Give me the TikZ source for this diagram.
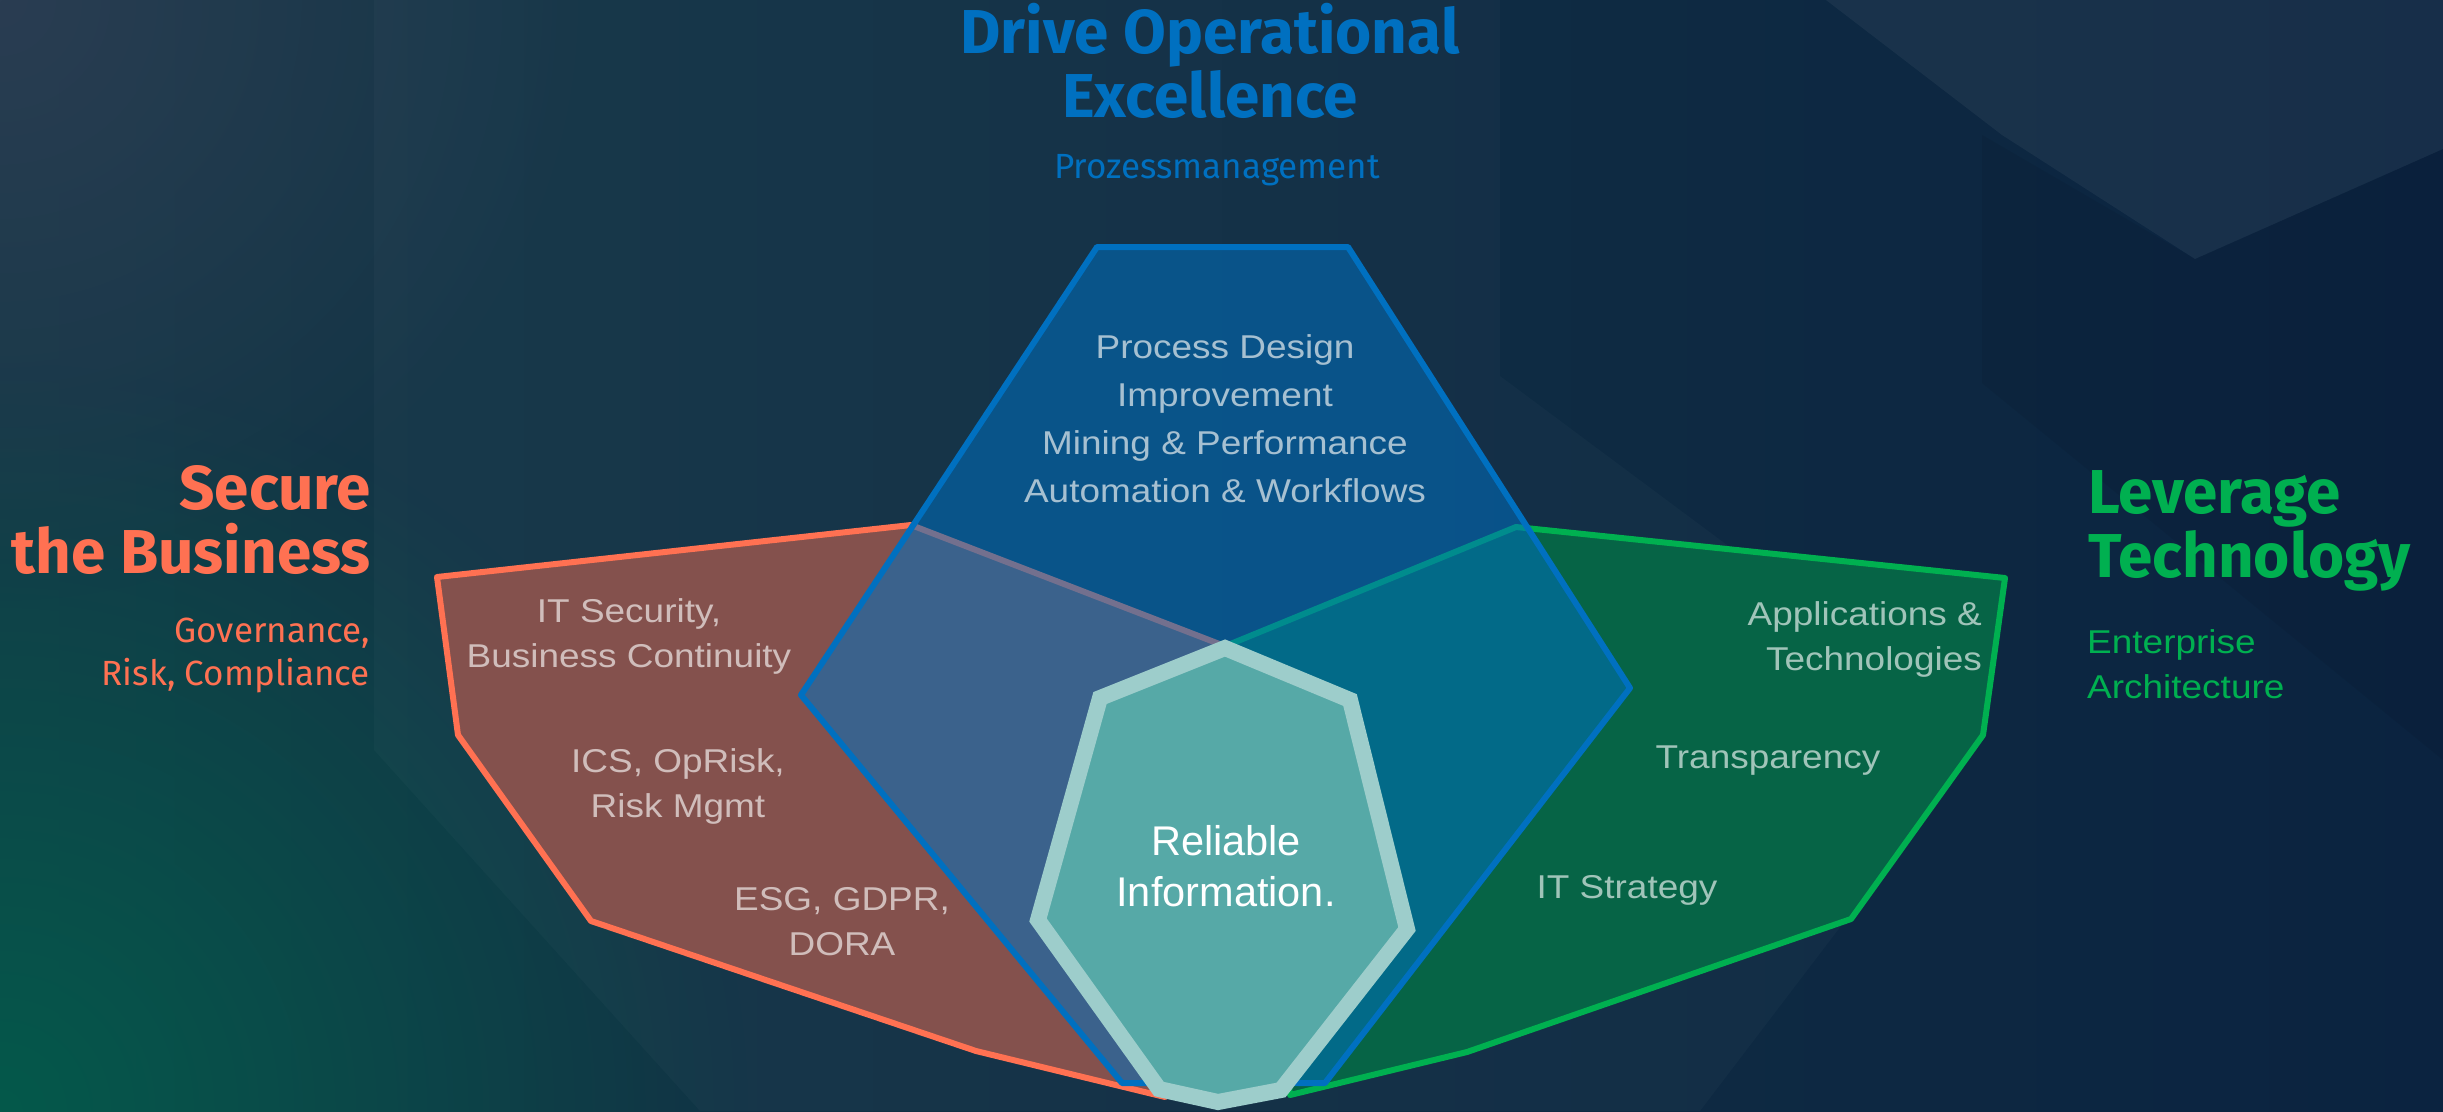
\documentclass[tikz,border=0pt]{standalone}
\usepackage{fontspec}
\usepackage{tikz}
\usetikzlibrary{fadings}
\newfontfamily\headfont{Fira Sans}
\newfontfamily\bodyfont[FakeStretch=1.12]{Liberation Sans}
\newfontfamily\infofont{Liberation Sans}
\definecolor{bgleft}{HTML}{143847}
\definecolor{bgright}{HTML}{0B2340}
\definecolor{bgteal}{HTML}{04594B}
\definecolor{bgcorner}{HTML}{2A3D52}
\definecolor{secred}{HTML}{FF7152}
\definecolor{levgreen}{HTML}{00B050}
\definecolor{opblue}{HTML}{0070C0}
\definecolor{redfill}{HTML}{84514D}
\definecolor{greenfill}{HTML}{066446}
\definecolor{bluefill}{HTML}{074F80}
\definecolor{hexfill}{HTML}{56A9A7}
\definecolor{hexline}{HTML}{9DCDCB}
\tikzfading[name=glowfade, inner color=transparent!0, outer color=transparent!100]
\tikzset{
  field/.style={line width=6pt, line join=round},
  titletxt/.style={font=\headfont\bfseries\fontsize{62}{64}\selectfont, inner sep=0pt, align=#1},
  subtxt/.style={font=\headfont\fontsize{35}{43}\selectfont, inner sep=0pt, align=#1},
  bodytxt/.style={font=\bodyfont\fontsize{33}{45}\selectfont, inner sep=0pt, align=center},
}

\begin{document}
\begin{tikzpicture}[x=1pt, y=-1pt]
    \useasboundingbox (0,0) rectangle (2443,1111);
    \clip (0,0) rectangle (2443,1111);
    \shade[left color=bgleft, right color=bgright] (0,0) rectangle (2443,1111);
    \fill[bgteal, path fading=glowfade] (0,1111) circle (750);
    \fill[bgcorner, path fading=glowfade] (0,0) circle (600);
    \fill[white, opacity=0.025] (374,0) -- (1500,0) -- (1500,376) -- (1985,737) -- (1700,1111) -- (700,1111) -- (374,750) -- cycle;
    \fill[white, opacity=0.05] (1826,0) -- (2002,135) -- (2195,259) -- (2443,149) -- (2443,0) -- cycle;
    \fill[black, opacity=0.06] (1982,135) -- (2195,259) -- (2443,149) -- (2443,760) -- (1982,383) -- cycle;

    \draw[field, secred, fill=redfill] (911,525) -- (437,577) -- (458,735) -- (591,921) -- (976,1051) -- (1165,1097) -- (1222,645) -- cycle;
    \draw[field, levgreen, fill=greenfill] (1516,527) -- (2005,578) -- (1983,735) -- (1851,919) -- (1467,1052) -- (1290,1095) -- (1228,645) -- cycle;
    \draw[field, opblue, fill=opblue, fill opacity=0.55] (1097,247) -- (1348,247) -- (1630,688) -- (1325,1083) -- (1122,1083) -- (801,695) -- cycle;
    \draw[line width=16pt, line join=miter, hexline, fill=hexfill] (1225,648) -- (1350,700) -- (1407,929) -- (1281,1090) -- (1218,1102) -- (1159,1089) -- (1038,920) -- (1100,698) -- cycle;

    \node[titletxt=center, text=opblue, anchor=base] (driveop) at (1210,117) {Drive Operational\\Excellence};
    \node[subtxt=center, text=opblue, anchor=base] (prozess) at (1217,178) {Prozessmanagement};
    \node[titletxt=right, text=secred, anchor=base east] (secure) at (371,573) {Secure\\the Business};
    \node[subtxt=right, text=secred, anchor=base east] (governance) at (370,685) {Governance,\\Risk, Compliance};
    \node[titletxt=left, text=levgreen, anchor=base west] (leverage) at (2088,577) {Leverage\\Technology};
    \node[bodytxt, align=left, text=levgreen, anchor=base west] (enterprise) at (2087,698) {Enterprise\\Architecture};

    \node[bodytxt, font=\bodyfont\fontsize{33}{48}\selectfont, text=white!64!bluefill, anchor=base] (procdesign) at (1225,502) {Process Design\\Improvement\\Mining \& Performance\\Automation \& Workflows};
    \node[bodytxt, text=white!62!redfill, anchor=base] (itsec) at (629,667) {IT Security,\\Business Continuity};
    \node[bodytxt, text=white!62!redfill, anchor=base] (icsrisk) at (678,817) {ICS, OpRisk,\\Risk Mgmt};
    \node[bodytxt, text=white!62!redfill, anchor=base] (esgdora) at (842,955) {ESG, GDPR,\\DORA};
    \node[bodytxt, align=right, text=white!62!greenfill, anchor=base east] (apptech) at (1982,670) {Applications \&\\Technologies};
    \node[bodytxt, text=white!62!greenfill, anchor=base] (transp) at (1768,768) {Transparency};
    \node[bodytxt, text=white!62!greenfill, anchor=base] (itstrat) at (1627,898) {IT Strategy};
    \node[font=\infofont\fontsize{41.5}{51}\selectfont, inner sep=0pt, align=center, text=white, anchor=base] (reliable) at (1226,906) {Reliable\\Information.};
\end{tikzpicture}
\end{document}
